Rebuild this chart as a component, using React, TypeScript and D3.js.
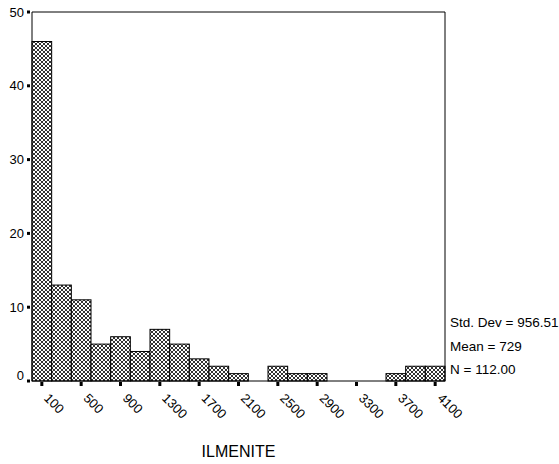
import React from "react";
import * as d3 from "d3";

// ILMENITE histogram, bin width 200, centres 100..4100
const binCenters = d3.range(100, 4101, 200);
const counts = [46, 13, 11, 5, 6, 4, 7, 5, 3, 2, 1, 0, 2, 1, 1, 0, 0, 0, 1, 2, 2];
const xTicks = [100, 500, 900, 1300, 1700, 2100, 2500, 2900, 3300, 3700, 4100];
const yTicks = [0, 10, 20, 30, 40, 50];
const stats = ["Std. Dev = 956.51", "Mean = 729", "N = 112.00"];
const axisTitle = "ILMENITE";

const width = 559;
const height = 464;
const margin = { top: 12, right: 114, bottom: 83, left: 32 };
const font = "'Liberation Sans', Arial, sans-serif";

export default function App() {
  const innerW = width - margin.left - margin.right;
  const innerH = height - margin.top - margin.bottom;

  const x = d3.scaleLinear().domain([0, 4200]).range([0, innerW]);
  const y = d3.scaleLinear().domain([0, 50]).range([innerH, 0]);
  const binW = x(200) - x(0);

  return (
    <svg
      width={width}
      height={height}
      style={{ position: "absolute", left: 0, top: 0, background: "#fff" }}
    >
      <defs>
        <pattern id="hatch" width="4" height="4" patternUnits="userSpaceOnUse">
          <rect width="4" height="4" fill="#fff" />
          <path d="M0,0 L4,4 M4,0 L0,4" stroke="#333" strokeWidth="1" />
        </pattern>
      </defs>
      <g transform={`translate(${margin.left},${margin.top})`}>
        {/* bars */}
        {counts.map((c, i) =>
          c > 0 ? (
            <rect
              key={i}
              x={x(binCenters[i]) - binW / 2}
              y={y(c)}
              width={binW}
              height={innerH - y(c)}
              fill="url(#hatch)"
              stroke="#000"
              strokeWidth={1}
            />
          ) : null
        )}

        {/* frame */}
        <path
          d={`M0,${innerH} V0 H${innerW} V${innerH} H0`}
          fill="none"
          stroke="#000"
          strokeWidth={1}
        />

        {/* y ticks */}
        {yTicks.map((t) => (
          <g key={t} transform={`translate(0,${y(t)})`}>
            <rect x={-5} y={-1.5} width={3} height={3} fill="#000" />
            <text
              x={-8}
              y={t === 0 ? -6 : 0}
              dy="0.35em"
              textAnchor="end"
              fontFamily={font}
              fontSize={13}
              fill="#000"
            >
              {t}
            </text>
          </g>
        ))}

        {/* x ticks */}
        {xTicks.map((t) => (
          <g key={t} transform={`translate(${x(t)},${innerH})`}>
            <rect x={-1.5} y={1} width={3} height={4} fill="#000" />
            <text
              transform="translate(1.5,18) rotate(45)"
              fontFamily={font}
              fontSize={13}
              fill="#000"
            >
              {t}
            </text>
          </g>
        ))}

        {/* axis title */}
        <text
          x={innerW / 2}
          y={innerH + 76}
          textAnchor="middle"
          fontFamily={font}
          fontSize={16}
          fill="#000"
        >
          {axisTitle}
        </text>

        {/* statistics */}
        {stats.map((s, i) => (
          <text
            key={s}
            x={innerW + 5}
            y={innerH - 54 + i * 23.5}
            fontFamily={font}
            fontSize={13.5}
            fill="#000"
          >
            {s}
          </text>
        ))}
      </g>
    </svg>
  );
}
